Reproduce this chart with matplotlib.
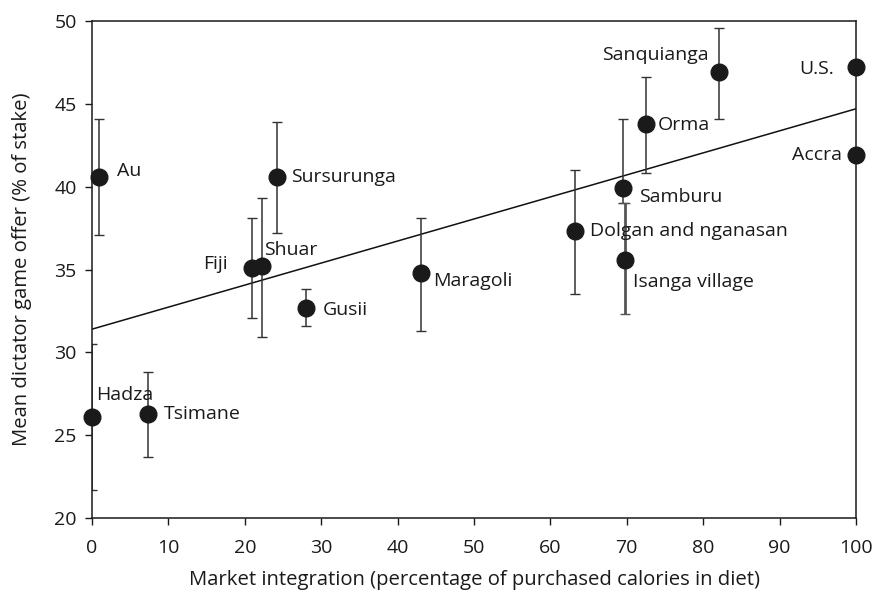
import matplotlib
matplotlib.use("Agg")
import matplotlib.pyplot as plt

plt.rcParams['font.family'] = ['Open Sans', 'DejaVu Sans']

# societies: market integration (x), mean offer (y), error bar low/high
names = ['Hadza', 'Tsimane', 'Au', 'Fiji', 'Shuar', 'Sursurunga', 'Gusii',
         'Maragoli', 'Dolgan and nganasan', 'Samburu', 'Isanga village',
         'Orma', 'Sanquianga', 'U.S.', 'Accra']
market = [0, 7.3, 0.9, 21.0, 22.2, 24.2, 28.0, 43.1, 63.2, 69.5, 69.7,
          72.5, 82.1, 100, 100]
offer = [26.1, 26.3, 40.6, 35.1, 35.2, 40.6, 32.7, 34.8, 37.3, 39.9, 35.6,
         43.8, 46.9, 47.2, 41.9]
err_low = [21.7, 23.7, 37.1, 32.1, 30.9, 37.2, 31.6, 31.3, 33.5, 39.0, 32.3,
           40.8, 44.1, None, None]
err_high = [30.5, 28.8, 44.1, 38.1, 39.3, 43.9, 33.8, 38.1, 41.0, 44.1, 39.0,
            46.6, 49.6, None, None]

# regression line end points
fit_x = [0, 100]
fit_y = [31.4, 44.7]

# label offsets in pixels (dx, dy, alignment)
label_pos = {
    'Hadza': (4, 22, 'left'), 'Tsimane': (16, 0, 'left'), 'Au': (18, 6, 'left'),
    'Fiji': (-25, 4, 'right'), 'Shuar': (2, 16, 'left'),
    'Sursurunga': (14, 0, 'left'), 'Gusii': (17, -2, 'left'),
    'Maragoli': (12, -8, 'left'), 'Dolgan and nganasan': (15, 0, 'left'),
    'Samburu': (16, -9, 'left'), 'Isanga village': (8, -22, 'left'),
    'Orma': (12, -1, 'left'), 'Sanquianga': (-11, 17, 'right'),
    'U.S.': (-22, -2, 'right'), 'Accra': (-14, 0, 'right'),
}

fig = plt.figure(figsize=(8.77, 5.95), dpi=100)
ax = fig.add_axes([0.105, 0.1294, 0.871, 0.8353])

for i in range(len(names)):
    if err_low[i] is not None:
        thick = names[i] == 'Isanga village'
        ax.errorbar(market[i], offer[i],
                    yerr=[[offer[i] - err_low[i]], [err_high[i] - offer[i]]],
                    fmt='none', ecolor='#555555' if thick else '#333333',
                    elinewidth=2.0 if thick else 1.1,
                    capsize=3.5, capthick=1.0, zorder=2)

ax.plot(fit_x, fit_y, color='#111111', lw=1.1, zorder=1)
ax.plot(market, offer, 'o', color='#1a1a1a', markersize=12, zorder=3,
        clip_on=False)

for i, n in enumerate(names):
    dx, dy, ha = label_pos[n]
    ax.annotate(n, (market[i], offer[i]), xytext=(dx, dy),
                textcoords='offset pixels', ha=ha, va='center',
                fontsize=14, color='#1a1a1a')

ax.set_xlim(0, 100)
ax.set_ylim(20, 50)
ax.set_xticks(range(0, 101, 10))
ax.set_yticks(range(20, 51, 5))
ax.tick_params(direction='out', length=5, width=1, labelsize=14,
               colors='#1a1a1a')
ax.tick_params(axis='x', pad=10)
ax.tick_params(axis='y', pad=6)
for s in ax.spines.values():
    s.set_linewidth(1.1)
    s.set_color('#1a1a1a')

ax.set_xlabel('Market integration (percentage of purchased calories in diet)',
              fontsize=14.6, color='#1a1a1a')
ax.set_ylabel('Mean dictator game offer (% of stake)', fontsize=14.6,
              color='#1a1a1a')
ax.xaxis.label.set_va('center')
ax.yaxis.label.set_va('center')
ax.xaxis.set_label_coords(0.5, -0.124)
ax.yaxis.set_label_coords(-0.092, 0.5)

fig.savefig('out.png', dpi=100)
